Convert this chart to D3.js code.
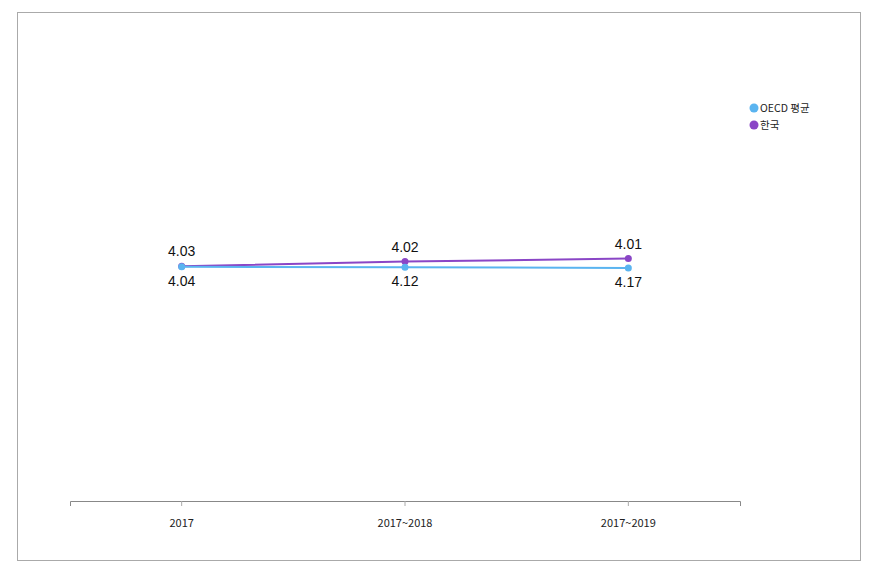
<!DOCTYPE html>
<html>
<head>
<meta charset="utf-8">
<script src="https://cdn.jsdelivr.net/npm/d3@7"></script>
<style>
  body { margin: 0; background: #fff; }
</style>
</head>
<body>
<svg id="chart"></svg>
<script>
var categories = ['2017', '2017~2018', '2017~2019']
var oecdValues = [4.03, 4.02, 4.01]
var koreaValues = [4.04, 4.12, 4.17]
var seriesNames = ['OECD 평균', '한국']
var seriesColors = ['#5ab4f0', '#8a46c6']

var W = 871, H = 567
var svg = d3.select('#chart').attr('width', W).attr('height', H)

// frame
svg.append('rect')
    .attr('x', 17.5).attr('y', 12.5)
    .attr('width', 843).attr('height', 548)
    .attr('fill', '#fff')
    .attr('stroke', '#aaaaaa')
    .attr('stroke-width', 1)

var x = d3.scaleBand().domain(categories).range([70, 740])
var y = d3.scaleLinear().domain([0, 8]).range([501, 36])

var xAxis = svg.append('g')
    .attr('transform', 'translate(0,501)')
    .call(d3.axisBottom(x).tickSize(5).tickSizeOuter(5))

xAxis.select('.domain').attr('stroke', '#888')
xAxis.selectAll('.tick line').attr('stroke', '#aaa')
xAxis.selectAll('.tick text')
    .attr('dy', '1.6em')
    .attr('font-family', 'Noto Sans CJK KR')
    .attr('font-size', '11px')
    .attr('fill', '#222')

var cx = function(d, i) { return x(categories[i]) + x.bandwidth() / 2 }

var line = d3.line()
    .x(function(d, i) { return cx(d, i) })
    .y(function(d) { return y(d) })

var series = [
    { name: seriesNames[0], values: oecdValues, color: seriesColors[0], above: true },
    { name: seriesNames[1], values: koreaValues, color: seriesColors[1], above: false }
]

// korea drawn first so the blue sits on top as in the picture
series.slice().reverse().forEach(function(s) {
    svg.append('path')
        .datum(s.values)
        .attr('d', line)
        .attr('fill', 'none')
        .attr('stroke', s.color)
        .attr('stroke-width', 2)

    svg.selectAll(null)
        .data(s.values)
        .enter().append('circle')
        .attr('cx', cx)
        .attr('cy', function(d) { return y(d) })
        .attr('r', 3.5)
        .attr('fill', s.color)
})

// labels: one set above the upper point, one below the lower point
series.forEach(function(s) {
    svg.selectAll(null)
        .data(s.values)
        .enter().append('text')
        .attr('x', cx)
        .attr('y', function(d, i) {
            var a = y(oecdValues[i]), b = y(koreaValues[i])
            return s.above ? Math.min(a, b) - 10 : Math.max(a, b) + 19
        })
        .text(function(d) { return d.toFixed(2) })
        .attr('text-anchor', 'middle')
        .attr('font-family', 'Liberation Sans')
        .attr('font-size', '14px')
        .attr('fill', '#111')
})

// legend
var legend = svg.append('g').attr('transform', 'translate(754,108)')
series.forEach(function(s, i) {
    legend.append('circle')
        .attr('cx', 0).attr('cy', i * 17)
        .attr('r', 4.5)
        .attr('fill', s.color)
    legend.append('text')
        .attr('x', 6).attr('y', i * 17 + 4)
        .text(s.name)
        .attr('font-family', 'Noto Sans CJK KR')
        .attr('font-size', '10.5px')
        .attr('fill', '#222')
})
</script>
</body>
</html>
